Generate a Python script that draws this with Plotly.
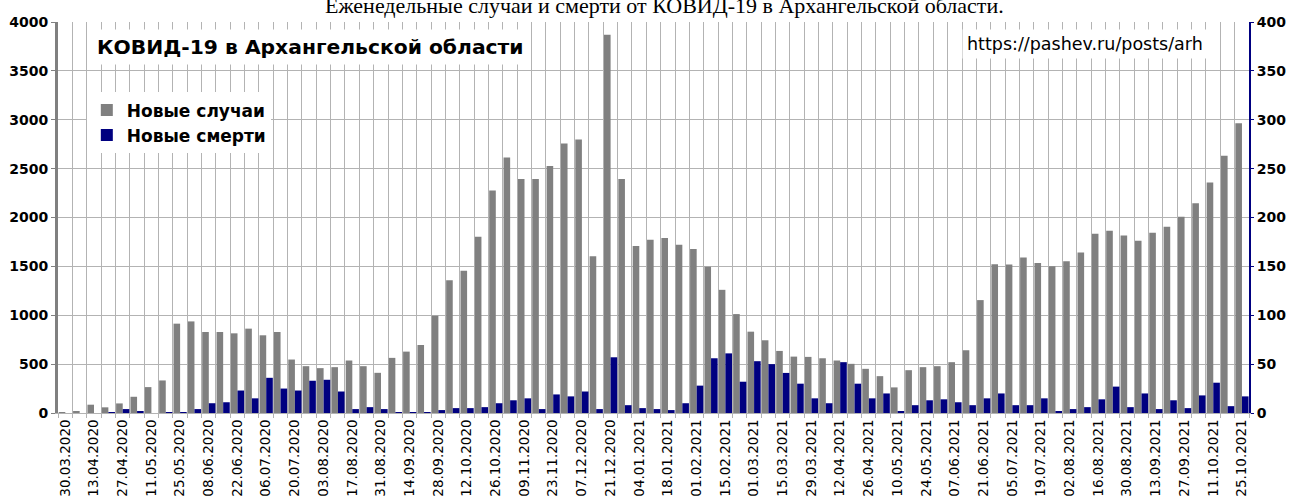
import plotly.graph_objects as go

weeks = ["30.03.2020","06.04.2020","13.04.2020","20.04.2020","27.04.2020","04.05.2020","11.05.2020","18.05.2020",
         "25.05.2020","01.06.2020","08.06.2020","15.06.2020","22.06.2020","29.06.2020","06.07.2020","13.07.2020",
         "20.07.2020","27.07.2020","03.08.2020","10.08.2020","17.08.2020","24.08.2020","31.08.2020","07.09.2020",
         "14.09.2020","21.09.2020","28.09.2020","05.10.2020","12.10.2020","19.10.2020","26.10.2020","02.11.2020",
         "09.11.2020","16.11.2020","23.11.2020","30.11.2020","07.12.2020","14.12.2020","21.12.2020","28.12.2020",
         "04.01.2021","11.01.2021","18.01.2021","25.01.2021","01.02.2021","08.02.2021","15.02.2021","22.02.2021",
         "01.03.2021","08.03.2021","15.03.2021","22.03.2021","29.03.2021","05.04.2021","12.04.2021","19.04.2021",
         "26.04.2021","03.05.2021","10.05.2021","17.05.2021","24.05.2021","31.05.2021","07.06.2021","14.06.2021",
         "21.06.2021","28.06.2021","05.07.2021","12.07.2021","19.07.2021","26.07.2021","02.08.2021","09.08.2021",
         "16.08.2021","23.08.2021","30.08.2021","06.09.2021","13.09.2021","20.09.2021","27.09.2021","04.10.2021",
         "11.10.2021","18.10.2021","25.10.2021"]

cases = [3, 17, 85, 58, 98, 166, 265, 333, 914, 937, 829, 829, 815, 863, 795, 829,
         547, 479, 459, 469, 537, 479, 411, 564, 628, 696, 995, 1359, 1454, 1804, 2276, 2615,
         2395, 2395, 2527, 2758, 2799, 1603, 3869, 2395, 1709, 1773, 1790, 1722, 1678, 1495, 1260, 1012,
         832, 744, 635, 577, 574, 560, 537, 503, 452, 377, 262, 438, 469, 479, 520, 642,
         1155, 1522, 1518, 1590, 1535, 1501, 1552, 1641, 1834, 1865, 1817, 1763, 1844, 1906, 2007, 2147,
         2357, 2632, 2965]

deaths = [0, 0, 0, 1, 4, 2, 0, 1, 1, 4, 10, 11, 23, 15, 36, 25,
          23, 33, 34, 22, 4, 6, 4, 1, 1, 1, 3, 5, 5, 6, 10, 13,
          15, 4, 19, 17, 22, 4, 57, 8, 5, 4, 3, 10, 28, 56, 61, 32,
          53, 50, 41, 30, 15, 10, 52, 30, 15, 20, 2, 8, 13, 14, 11, 8,
          15, 20, 8, 8, 15, 2, 4, 6, 14, 27, 6, 20, 4, 13, 5, 18,
          31, 7, 17]

idx = list(range(len(weeks)))
tick_idx = idx[::2]
tick_txt = weeks[::2]

GRAY = "#808080"
NAVY = "#000080"
GRID = "#b3b3b3"
SANS = "DejaVu Sans, sans-serif"

fig = go.Figure()
fig.add_trace(go.Bar(x=idx, y=cases, name="Новые случаи", marker=dict(color=GRAY, line=dict(width=0)),
                     width=0.46, offset=-0.45, yaxis="y"))
fig.add_trace(go.Bar(x=idx, y=deaths, name="Новые смерти", marker=dict(color=NAVY, line=dict(width=0)),
                     width=0.46, offset=0.01, yaxis="y2"))

fig.update_layout(
    width=1293, height=500,
    margin=dict(l=58, r=44, t=22, b=87, autoexpand=False),
    paper_bgcolor="white", plot_bgcolor="white",
    barmode="overlay",
    font=dict(family=SANS, color="black"),
    xaxis=dict(range=[-0.5, len(weeks) - 0.5], tickmode="array", tickvals=tick_idx, ticktext=tick_txt,
               tickangle=-90, showgrid=False, ticks="", zeroline=False, automargin=False,
               tickfont=dict(family=SANS, size=13.5, color="black"),
               showline=True, linecolor=GRID, linewidth=1,
               minor=dict(tickmode="linear", tick0=-0.5, dtick=1, showgrid=True, gridcolor=GRID,
                          gridwidth=1, ticks="outside", ticklen=4, tickcolor=GRID)),
    yaxis=dict(range=[0, 4000], dtick=500, showgrid=True, gridcolor=GRID, gridwidth=1, zeroline=False,
               automargin=False,
               showline=True, linecolor=GRAY, linewidth=3, ticks="outside", ticklen=4, tickcolor=GRAY,
               tickfont=dict(family=SANS, size=14, color="black", weight="bold")),
    yaxis2=dict(range=[0, 400], dtick=50, overlaying="y", side="right", showgrid=False, zeroline=False,
                automargin=False,
                showline=True, linecolor=NAVY, linewidth=2, ticks="outside", ticklen=3, tickcolor=NAVY,
                tickfont=dict(family=SANS, size=14, color="black", weight="bold")),
    legend=dict(x=0.0242, y=0.82, xanchor="left", yanchor="top", bgcolor="white",
                font=dict(family=SANS, size=17, color="black", weight="bold"),
                tracegroupgap=0, itemwidth=30),
    showlegend=True,
)

fig.add_annotation(text="Еженедельные случаи и смерти от КОВИД-19 в Архангельской области.",
                   xref="paper", yref="paper", x=0.509, y=1.0411, xanchor="center", yanchor="middle",
                   showarrow=False, font=dict(family="Liberation Serif, serif", size=22, color="black"))
fig.add_annotation(text="<b>КОВИД-19 в Архангельской области</b>",
                   xref="paper", yref="paper", x=0.0277, y=0.936, xanchor="left", yanchor="middle",
                   showarrow=False, bgcolor="white", borderpad=5,
                   font=dict(family=SANS, size=20.3, color="black"))
fig.add_annotation(text="https://pashev.ru/posts/arh",
                   xref="paper", yref="paper", x=0.9656, y=0.943, xanchor="right", yanchor="middle",
                   showarrow=False, bgcolor="white", borderpad=4,
                   font=dict(family=SANS, size=17.5, color="black"))

fig.write_html("out.html", config={"displayModeBar": False},
               post_script="document.body.style.margin='0px';document.body.style.overflow='hidden';")
